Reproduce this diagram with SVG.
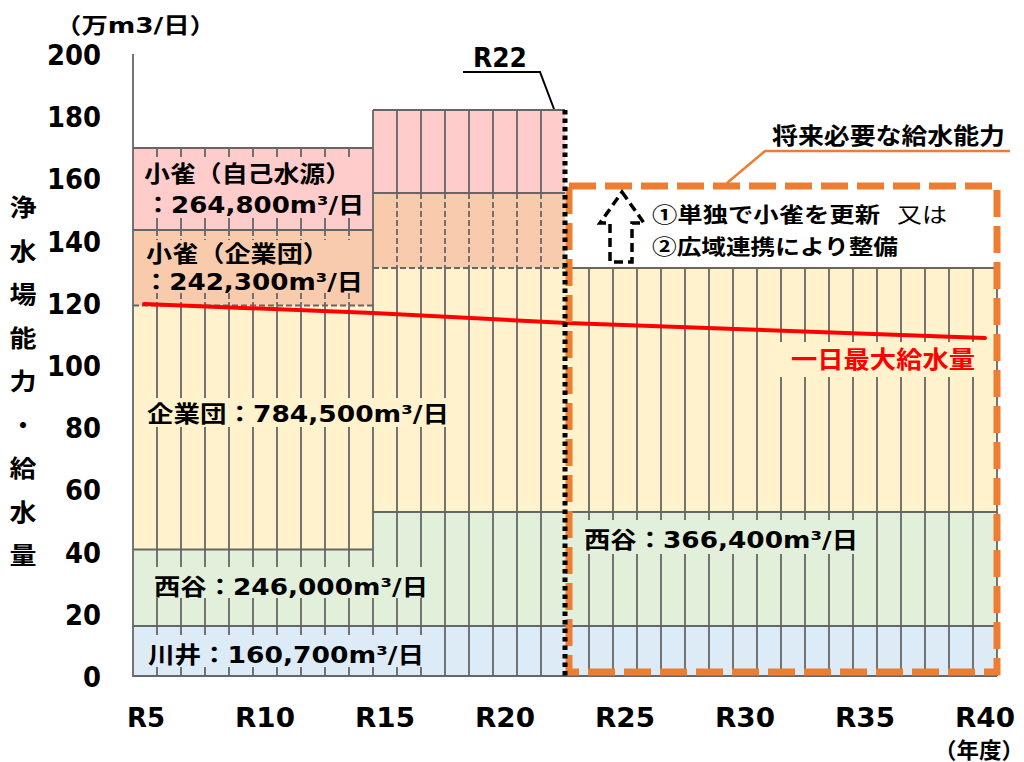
<svg xmlns="http://www.w3.org/2000/svg" width="1024" height="762" viewBox="0 0 1024 762">
<style>
.g{stroke:#666;stroke-width:1.8;fill:none}
.gd{stroke:#666;stroke-width:1.8;fill:none;stroke-dasharray:6 3}
.t{font-family:'DejaVu Sans','Noto Sans CJK JP',sans-serif;font-weight:bold;fill:#000}
.j{font-family:'Noto Sans CJK JP','DejaVu Sans',sans-serif;font-weight:bold;fill:#000}
.ax{font-family:'DejaVu Sans','Liberation Sans',sans-serif;font-weight:bold;font-size:29px;fill:#000;text-anchor:end}
.xl{font-family:'DejaVu Sans','Liberation Sans',sans-serif;font-weight:bold;font-size:27px;fill:#000;text-anchor:middle}
.yt{font-family:'Noto Sans CJK JP',sans-serif;font-weight:bold;font-size:24px;fill:#000;text-anchor:middle}
</style>
<rect width="1024" height="762" fill="#fff"/>
<g id="fills">
<rect x="133" y="626" width="864" height="50" fill="#DDEBF7"/>
<rect x="133" y="549.5" width="240" height="76.5" fill="#E2EFDA"/>
<rect x="373" y="512" width="624" height="114" fill="#E2EFDA"/>
<rect x="133" y="305.5" width="240" height="244" fill="#FFF2CC"/>
<rect x="373" y="268" width="624" height="244" fill="#FFF2CC"/>
<rect x="133" y="230" width="240" height="75.5" fill="#F8CBAD"/>
<rect x="373" y="193" width="192" height="75" fill="#F8CBAD"/>
<rect x="133" y="148" width="240" height="82" fill="#FFCCCC"/>
<rect x="373" y="110" width="192" height="83" fill="#FFCCCC"/>
</g>
<g id="grid">
<path class="g" d="M133 54V676H997M133 148H373M133 230H373M133 549.5H373M133 626H997M373 110H565M373 193H565M373 512H997M565 268H997M373 110V676M997 268V676"/>
<path class="gd" d="M133 305.5H373M373 268H565"/>
<path class="g" d="M157 148V230M181 148V230M205 148V230M229 148V230M253 148V230M277 148V230M301 148V230M325 148V230M349 148V230
M157 305.5V676M181 305.5V676M205 305.5V676M229 305.5V676M253 305.5V676M277 305.5V676M301 305.5V676M325 305.5V676M349 305.5V676"/>
<path class="gd" d="M157 230V305.5M181 230V305.5M205 230V305.5M229 230V305.5M253 230V305.5M277 230V305.5M301 230V305.5M325 230V305.5M349 230V305.5"/>
<path class="g" d="M397 110V193M421 110V193M445 110V193M469 110V193M493 110V193M517 110V193M541 110V193
M397 268V676M421 268V676M445 268V676M469 268V676M493 268V676M517 268V676M541 268V676"/>
<path class="gd" d="M397 193V268M421 193V268M445 193V268M469 193V268M493 193V268M517 193V268M541 193V268"/>
<path class="g" d="M589 268V676M613 268V676M637 268V676M661 268V676M685 268V676M709 268V676M733 268V676M757 268V676M781 268V676M805 268V676M829 268V676M853 268V676M877 268V676M901 268V676M925 268V676M949 268V676M973 268V676"/>
</g>
<g id="label-boxes">
<rect x="137" y="157" width="232" height="61" fill="#FFCCCC"/>
<rect x="137" y="240" width="232" height="53" fill="#F8CBAD"/>
<rect x="140" y="398" width="312" height="29" fill="#FFF2CC"/>
<rect x="148" y="567" width="284" height="31" fill="#E2EFDA"/>
<rect x="142" y="635" width="290" height="32" fill="#DDEBF7"/>
<rect x="578" y="520" width="284" height="34" fill="#E2EFDA"/>
<rect x="776" y="342" width="202" height="35" fill="#FFF2CC"/>
</g>
<g id="demand-line">
<polyline points="144,304 373,313 567,323 985,338" fill="none" stroke="#FF0000" stroke-width="4" stroke-linecap="round"/>
</g>
<g id="future-box">
<rect x="569" y="186" width="428" height="486" fill="none" stroke="#ED7D31" stroke-width="7" stroke-dasharray="27 9"/>
<polyline points="727,183 765,151 1010,151" fill="none" stroke="#ED7D31" stroke-width="2.5"/>
<text class="j" x="772" y="144" font-size="23" textLength="233" lengthAdjust="spacingAndGlyphs">将来必要な給水能力</text>
</g>
<g id="r22-marker">
<line x1="565" y1="110" x2="565" y2="676" stroke="#000" stroke-width="5" stroke-dasharray="4.5 4"/>
<polyline points="463,72 540,72 554,109" fill="none" stroke="#000" stroke-width="2"/>
<text class="xl" x="500" y="67" textLength="54" lengthAdjust="spacingAndGlyphs">R22</text>
</g>
<g id="arrow">
<polygon points="622,192 644,223 632,223 632,262 610,262 610,223 600,223" fill="none" stroke="#000" stroke-width="3.5" stroke-dasharray="9 5"/>
</g>
<g id="options">
<text class="j" x="652" y="222" font-size="21" textLength="228" lengthAdjust="spacingAndGlyphs">①単独で小雀を更新</text>
<text x="897" y="222" font-family="'Noto Sans CJK JP',sans-serif" font-size="21" textLength="50" lengthAdjust="spacingAndGlyphs">又は</text>
<text class="j" x="652" y="254" font-size="21" textLength="246" lengthAdjust="spacingAndGlyphs">②広域連携により整備</text>
</g>
<g id="labels">
<text class="t" x="144" y="182" font-size="23" textLength="207" lengthAdjust="spacingAndGlyphs">小雀（自己水源）</text>
<text class="t" x="145" y="213" font-size="23" textLength="219" lengthAdjust="spacingAndGlyphs">：264,800m³/日</text>
<text class="t" x="146" y="262" font-size="23" textLength="183" lengthAdjust="spacingAndGlyphs">小雀（企業団）</text>
<text class="t" x="143" y="290" font-size="23" textLength="220" lengthAdjust="spacingAndGlyphs">：242,300m³/日</text>
<text class="t" x="147" y="422" font-size="23" textLength="302" lengthAdjust="spacingAndGlyphs">企業団：784,500m³/日</text>
<text class="t" x="154" y="595" font-size="23" textLength="274" lengthAdjust="spacingAndGlyphs">西谷：246,000m³/日</text>
<text class="t" x="148" y="663" font-size="23" textLength="276" lengthAdjust="spacingAndGlyphs">川井：160,700m³/日</text>
<text class="t" x="584" y="548" font-size="23" textLength="274" lengthAdjust="spacingAndGlyphs">西谷：366,400m³/日</text>
<text class="j" x="791" y="368" font-size="24" style="fill:#FF0000" textLength="184" lengthAdjust="spacingAndGlyphs">一日最大給水量</text>
</g>
<g id="y-axis">
<text class="t" x="55" y="33" font-size="22" textLength="161" lengthAdjust="spacingAndGlyphs">（万m3/日）</text>
<text class="ax" x="101" y="65" textLength="54" lengthAdjust="spacingAndGlyphs">200</text>
<text class="ax" x="101" y="127.2" textLength="54" lengthAdjust="spacingAndGlyphs">180</text>
<text class="ax" x="101" y="189.4" textLength="54" lengthAdjust="spacingAndGlyphs">160</text>
<text class="ax" x="101" y="251.6" textLength="54" lengthAdjust="spacingAndGlyphs">140</text>
<text class="ax" x="101" y="313.8" textLength="54" lengthAdjust="spacingAndGlyphs">120</text>
<text class="ax" x="101" y="376" textLength="54" lengthAdjust="spacingAndGlyphs">100</text>
<text class="ax" x="101" y="438.2" textLength="36" lengthAdjust="spacingAndGlyphs">80</text>
<text class="ax" x="101" y="500.4" textLength="36" lengthAdjust="spacingAndGlyphs">60</text>
<text class="ax" x="101" y="562.6" textLength="36" lengthAdjust="spacingAndGlyphs">40</text>
<text class="ax" x="101" y="624.8" textLength="36" lengthAdjust="spacingAndGlyphs">20</text>
<text class="ax" x="101" y="687" textLength="18" lengthAdjust="spacingAndGlyphs">0</text>
<text class="yt" x="23" y="216" textLength="27" lengthAdjust="spacingAndGlyphs">浄</text>
<text class="yt" x="23" y="259.5" textLength="27" lengthAdjust="spacingAndGlyphs">水</text>
<text class="yt" x="23" y="303" textLength="27" lengthAdjust="spacingAndGlyphs">場</text>
<text class="yt" x="23" y="346.5" textLength="27" lengthAdjust="spacingAndGlyphs">能</text>
<text class="yt" x="23" y="390" textLength="27" lengthAdjust="spacingAndGlyphs">力</text>
<text class="yt" x="23" y="433.5">・</text>
<text class="yt" x="23" y="477" textLength="27" lengthAdjust="spacingAndGlyphs">給</text>
<text class="yt" x="23" y="520.5" textLength="27" lengthAdjust="spacingAndGlyphs">水</text>
<text class="yt" x="23" y="564" textLength="27" lengthAdjust="spacingAndGlyphs">量</text>
</g>
<g id="x-axis">
<text class="xl" x="146" y="727" textLength="38" lengthAdjust="spacingAndGlyphs">R5</text>
<text class="xl" x="265" y="727" textLength="60" lengthAdjust="spacingAndGlyphs">R10</text>
<text class="xl" x="385" y="727" textLength="60" lengthAdjust="spacingAndGlyphs">R15</text>
<text class="xl" x="505" y="727" textLength="60" lengthAdjust="spacingAndGlyphs">R20</text>
<text class="xl" x="625" y="727" textLength="60" lengthAdjust="spacingAndGlyphs">R25</text>
<text class="xl" x="745" y="727" textLength="60" lengthAdjust="spacingAndGlyphs">R30</text>
<text class="xl" x="865" y="727" textLength="60" lengthAdjust="spacingAndGlyphs">R35</text>
<text class="xl" x="985" y="727" textLength="60" lengthAdjust="spacingAndGlyphs">R40</text>
<text class="j" x="934" y="758" font-size="22" textLength="90" lengthAdjust="spacingAndGlyphs">（年度）</text>
</g>
</svg>
